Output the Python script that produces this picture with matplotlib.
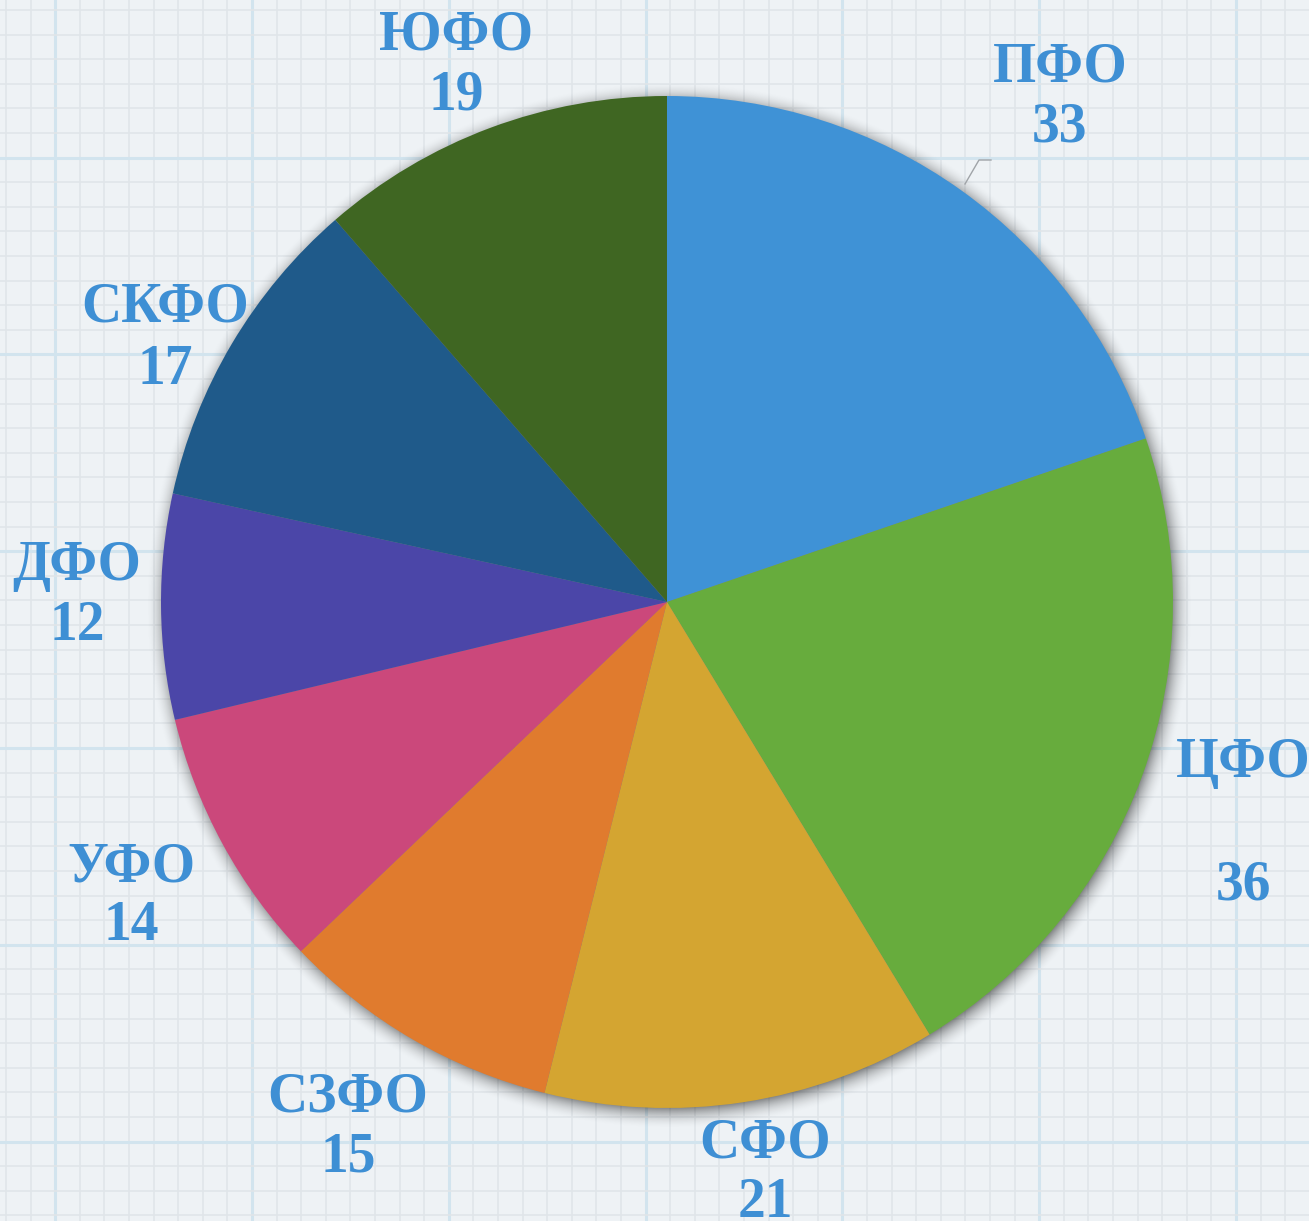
import numpy as np
import matplotlib
matplotlib.use("Agg")
import matplotlib.pyplot as plt

# ---- data ----
regions = ["ПФО", "ЦФО", "СФО", "СЗФО", "УФО", "ДФО", "СКФО", "ЮФО"]
values = [33, 36, 21, 15, 14, 12, 17, 19]
colors = ["#3F92D6", "#67AC3D", "#D4A531", "#E07B2E", "#CB487B", "#4B46A8", "#1F5A8A", "#3F6622"]

# label placement (pixel coords of label centre, name line / value line gap)
label_px = [(1060, 62, 60), (1243, 757, 123), (765, 1137, 60), (348, 1092, 60),
            (131, 862, 58), (77, 560, 60), (165, 302, 62), (456, 30, 60)]

W, H = 1309, 1221
CX, CY, R = 667, 602, 506
fig = plt.figure(figsize=(W / 100, H / 100), dpi=100)

# ---- background graph paper ----
bg = fig.add_axes([0, 0, 1, 1])
bg.set_xlim(0, W)
bg.set_ylim(H, 0)
bg.axis("off")
bg.add_patch(plt.Rectangle((0, 0), W, H, color="#EEF2F5", zorder=0))
step = 24.6
for i in range(-2, 60):
    x = 6 + i * step
    major = (i % 8 == 2)
    bg.plot([x, x], [0, H], color="#D2E4EE" if major else "#E0E5E9",
            lw=2.2 if major else 1.2, zorder=1)
for j in range(-2, 60):
    y = 10 + j * step
    major = (j % 8 == 6)
    bg.plot([0, W], [y, y], color="#D2E4EE" if major else "#E0E5E9",
            lw=2.2 if major else 1.2, zorder=1)

# shadow
yy, xx = np.mgrid[0:H, 0:W]
rr = np.hypot(xx - CX - 2, yy - CY - 3)
s = np.clip(1 - (rr - R + 4) / 22.0, 0, 1) ** 2 * 0.45
img = np.zeros((H, W, 4))
img[..., 3] = s
bg.imshow(img, extent=(0, W, H, 0), zorder=2, interpolation="bilinear")

# ---- pie ----
ax = fig.add_axes([0, 0, 1, 1])
ax.patch.set_alpha(0)
ax.pie(values, colors=colors, startangle=90, counterclock=False, radius=1,
       wedgeprops=dict(linewidth=0))
ax.set_xlim(-CX / R, (W - CX) / R)
ax.set_ylim(-(H - CY) / R, CY / R)
ax.set_aspect("equal")
ax.axis("off")

txtc = "#3E8FD4"
fp = dict(family="Liberation Serif", fontweight="bold", fontsize=40, color=txtc,
          ha="center", va="center_baseline")
for name, v, (px, py, gap) in zip(regions, values, label_px):
    ax.text((px - CX) / R, (CY - py) / R, name, **fp)
    ax.text((px - CX) / R, (CY - py - gap) / R, str(v), **fp)

# leader line for ПФО
bg.plot([965, 979, 991], [184, 160, 160], color="#A0A4A8", lw=1.0, zorder=3)

fig.savefig("out.png", dpi=100)
